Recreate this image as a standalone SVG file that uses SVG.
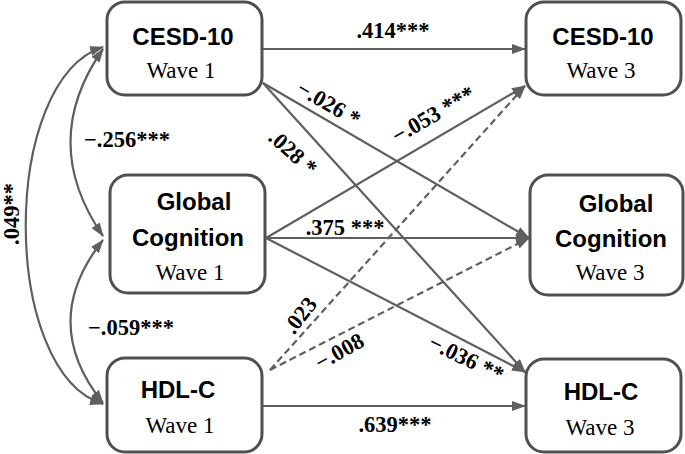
<svg xmlns="http://www.w3.org/2000/svg" width="685" height="454" viewBox="0 0 685 454">
<style>
.box{fill:#fff;stroke:#505050;stroke-width:3}
.h{font-family:"Liberation Sans",Arial,sans-serif;font-weight:bold;font-size:24px;fill:#000;text-anchor:middle}
.w{font-family:"Liberation Serif","Times New Roman",serif;font-size:23px;fill:#000;text-anchor:middle}
.l{font-family:"Liberation Serif","Times New Roman",serif;font-weight:bold;font-size:22.5px;fill:#000;text-anchor:middle}
.c{fill:none;stroke:#5f5f5f;stroke-width:2.2}
.d{stroke-dasharray:7,4}
</style>
<defs>
<marker id="ah" viewBox="0 0 14 10" refX="13" refY="5" markerWidth="14" markerHeight="10" markerUnits="userSpaceOnUse" orient="auto-start-reverse">
<path d="M0,0 L14,5 L0,10 z" fill="#5f5f5f"/>
</marker>
</defs>
<rect width="685" height="454" fill="#fff"/>
<g id="connectors">
<path class="c" d="M103,49 Q38,142 103,236" marker-start="url(#ah)" marker-end="url(#ah)"/>
<path class="c" d="M103,240 Q38,322 103,403" marker-start="url(#ah)" marker-end="url(#ah)"/>
<path class="c" d="M103,47 C0,80 0,372 103,404" marker-start="url(#ah)" marker-end="url(#ah)"/>
<line class="c" x1="263" y1="49" x2="525" y2="49" marker-end="url(#ah)"/>
<line class="c" x1="263" y1="406" x2="525" y2="406" marker-end="url(#ah)"/>
<line class="c" x1="266" y1="238" x2="529" y2="238" marker-end="url(#ah)"/>
<line class="c" x1="263" y1="83" x2="529" y2="238" marker-end="url(#ah)"/>
<line class="c" x1="263" y1="83" x2="525" y2="372" marker-end="url(#ah)"/>
<line class="c" x1="266" y1="238" x2="525" y2="86" marker-end="url(#ah)"/>
<line class="c" x1="266" y1="238" x2="525" y2="372" marker-end="url(#ah)"/>
<line class="c d" x1="270" y1="370" x2="525" y2="86" marker-end="url(#ah)"/>
<line class="c d" x1="270" y1="370" x2="529" y2="238" marker-end="url(#ah)"/>
</g>
<g id="labels">
<text class="l" x="393" y="38">.414***</text>
<text class="l" x="395" y="432">.639***</text>
<text class="l" x="345" y="235">.375 ***</text>
<text class="l" x="127" y="147">−.256***</text>
<text class="l" x="131" y="335">−.059***</text>
<text class="l" transform="translate(19,214) rotate(-90)">.049**</text>
<text class="l" transform="translate(325,110) rotate(30)">−.026 *</text>
<text class="l" transform="translate(288,158) rotate(42)">.028 *</text>
<text class="l" transform="translate(437,121) rotate(-30)">−.053 ***</text>
<text class="l" transform="translate(306,320) rotate(-52)">.023</text>
<text class="l" transform="translate(343,358) rotate(-29)">−.008</text>
<text class="l" transform="translate(463,365) rotate(26)">−.036 **</text>
</g>
<g id="cesd1">
<rect class="box" x="107" y="2" width="155" height="93" rx="18"/>
<text class="h" x="183" y="45">CESD-10</text>
<text class="w" x="181" y="78">Wave 1</text>
</g>
<g id="glob1">
<rect class="box" x="110" y="175" width="155" height="118" rx="18"/>
<text class="h" x="194" y="210">Global</text>
<text class="h" x="188" y="246">Cognition</text>
<text class="w" x="190" y="280">Wave 1</text>
</g>
<g id="hdl1">
<rect class="box" x="107" y="358" width="155" height="94" rx="18"/>
<text class="h" x="178" y="398">HDL-C</text>
<text class="w" x="180" y="433">Wave 1</text>
</g>
<g id="cesd3">
<rect class="box" x="526" y="2" width="155" height="93" rx="18"/>
<text class="h" x="603" y="45">CESD-10</text>
<text class="w" x="601" y="78">Wave 3</text>
</g>
<g id="glob3">
<rect class="box" x="530" y="175" width="153" height="120" rx="18"/>
<text class="h" x="616" y="212">Global</text>
<text class="h" x="611" y="247">Cognition</text>
<text class="w" x="610" y="280">Wave 3</text>
</g>
<g id="hdl3">
<rect class="box" x="526" y="359" width="155" height="93" rx="18"/>
<text class="h" x="601" y="400">HDL-C</text>
<text class="w" x="600" y="435">Wave 3</text>
</g>
</svg>
